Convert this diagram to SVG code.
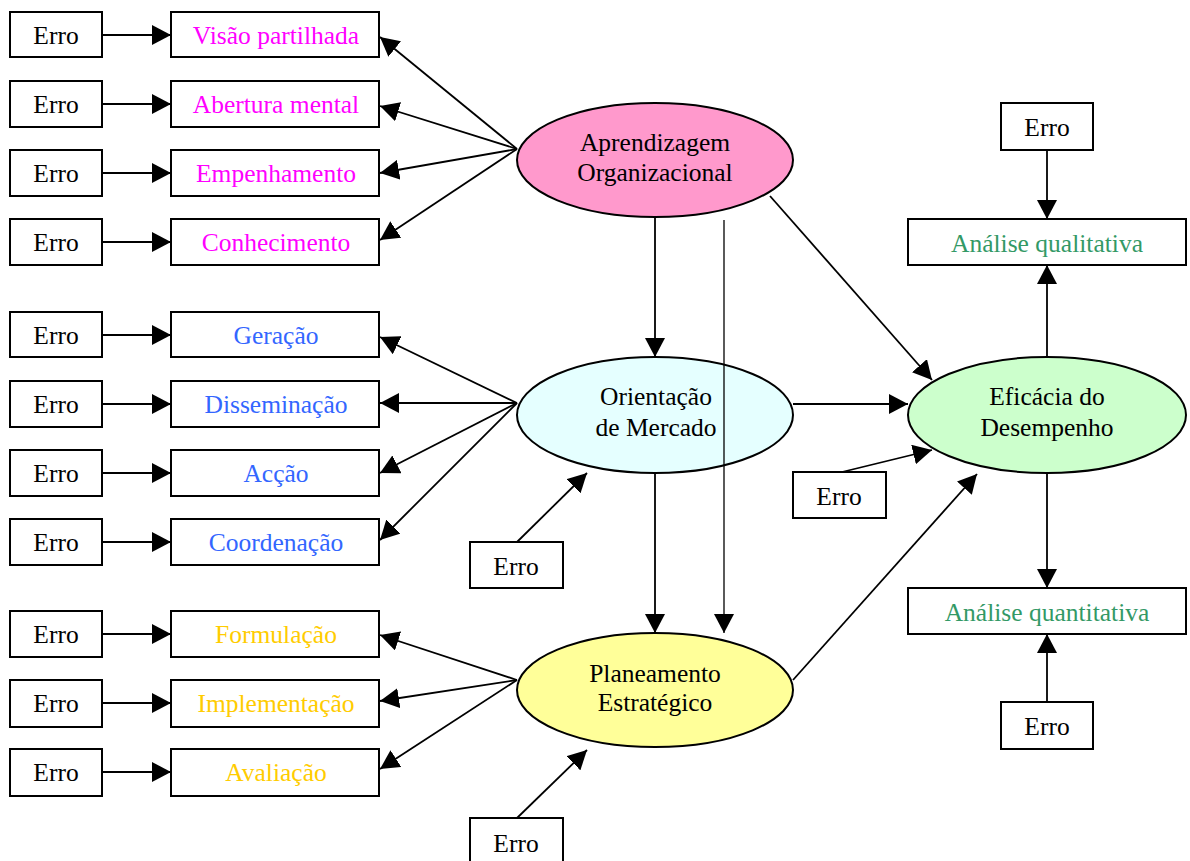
<svg xmlns="http://www.w3.org/2000/svg" width="1190" height="861" viewBox="0 0 1190 861">
  <defs>
    <marker id="arrow" markerUnits="userSpaceOnUse" markerWidth="20" markerHeight="20" refX="19" refY="10" orient="auto" viewBox="0 0 20 20">
      <path d="M0,0 L19,10 L0,20 Z" fill="#000"/>
    </marker>
    <style>
      text { font-family: "Liberation Serif", "Times New Roman", serif; font-size: 25.5px; text-anchor: middle; }
      .box { fill: #fff; stroke: #000; stroke-width: 2; }
      .ell { stroke: #000; stroke-width: 2; }
      .con { fill: none; stroke: #000; stroke-width: 1.8; marker-end: url(#arrow); }
      .thin { fill: none; stroke: #000; stroke-width: 1.3; marker-end: url(#arrow); }
      .mag { fill: #FF00FF; }
      .blu { fill: #3366FF; }
      .gold { fill: #FFCC00; }
      .grn { fill: #339966; }
    </style>
  </defs>
  <rect width="1190" height="861" fill="#fff"/>

  <!-- connectors -->
  <g id="connectors">
    <!-- error terms into indicators -->
    <line class="con" x1="102" y1="35" x2="171" y2="35"/>
    <line class="con" x1="102" y1="104" x2="171" y2="104"/>
    <line class="con" x1="102" y1="173" x2="171" y2="173"/>
    <line class="con" x1="102" y1="242" x2="171" y2="242"/>
    <line class="con" x1="102" y1="335" x2="171" y2="335"/>
    <line class="con" x1="102" y1="404" x2="171" y2="404"/>
    <line class="con" x1="102" y1="473" x2="171" y2="473"/>
    <line class="con" x1="102" y1="542" x2="171" y2="542"/>
    <line class="con" x1="102" y1="634" x2="171" y2="634"/>
    <line class="con" x1="102" y1="703" x2="171" y2="703"/>
    <line class="con" x1="102" y1="772" x2="171" y2="772"/>

    <!-- Aprendizagem Organizacional indicators -->
    <line class="con" x1="517" y1="149" x2="380" y2="37"/>
    <line class="con" x1="517" y1="149" x2="380" y2="106"/>
    <line class="con" x1="517" y1="149" x2="380" y2="173"/>
    <line class="con" x1="517" y1="149" x2="380" y2="240"/>

    <!-- Orientação de Mercado indicators -->
    <line class="con" x1="517" y1="403" x2="380" y2="337"/>
    <line class="con" x1="517" y1="403" x2="380" y2="403"/>
    <line class="con" x1="517" y1="403" x2="380" y2="473"/>
    <line class="con" x1="517" y1="403" x2="380" y2="540"/>

    <!-- Planeamento Estratégico indicators -->
    <line class="con" x1="517" y1="680" x2="380" y2="635"/>
    <line class="con" x1="517" y1="680" x2="380" y2="701"/>
    <line class="con" x1="517" y1="680" x2="380" y2="769"/>

    <!-- structural paths -->
    <line class="con" x1="655" y1="218" x2="655" y2="357"/>
    <line class="con" x1="655" y1="474" x2="655" y2="633"/>
    <line class="con" x1="793" y1="404" x2="908" y2="404"/>
    <line class="con" x1="770" y1="196" x2="932" y2="380"/>
    <line class="con" x1="793" y1="680" x2="977" y2="474"/>

    <!-- error terms into latent variables -->
    <line class="con" x1="517" y1="542" x2="587" y2="473"/>
    <line class="con" x1="517" y1="818" x2="587" y2="750"/>
    <line class="con" x1="842" y1="472" x2="932" y2="450"/>

    <!-- Eficácia do Desempenho indicators -->
    <line class="con" x1="1047" y1="357" x2="1047" y2="265"/>
    <line class="con" x1="1047" y1="150" x2="1047" y2="219"/>
    <line class="con" x1="1047" y1="474" x2="1047" y2="588"/>
    <line class="con" x1="1047" y1="702" x2="1047" y2="634"/>
  </g>

  <!-- left error terms -->
  <g id="erro-1"><rect class="box" x="10" y="12" width="92" height="45"/><text x="56" y="44">Erro</text></g>
  <g id="erro-2"><rect class="box" x="10" y="81" width="92" height="46"/><text x="56" y="113">Erro</text></g>
  <g id="erro-3"><rect class="box" x="10" y="150" width="92" height="46"/><text x="56" y="182">Erro</text></g>
  <g id="erro-4"><rect class="box" x="10" y="219" width="92" height="46"/><text x="56" y="251">Erro</text></g>
  <g id="erro-5"><rect class="box" x="10" y="312" width="92" height="45"/><text x="56" y="344">Erro</text></g>
  <g id="erro-6"><rect class="box" x="10" y="381" width="92" height="46"/><text x="56" y="413">Erro</text></g>
  <g id="erro-7"><rect class="box" x="10" y="450" width="92" height="46"/><text x="56" y="482">Erro</text></g>
  <g id="erro-8"><rect class="box" x="10" y="519" width="92" height="46"/><text x="56" y="551">Erro</text></g>
  <g id="erro-9"><rect class="box" x="10" y="611" width="92" height="46"/><text x="56" y="643">Erro</text></g>
  <g id="erro-10"><rect class="box" x="10" y="680" width="92" height="47"/><text x="56" y="712">Erro</text></g>
  <g id="erro-11"><rect class="box" x="10" y="749" width="92" height="47"/><text x="56" y="781">Erro</text></g>

  <!-- indicators -->
  <g id="visao"><rect class="box" x="171" y="12" width="208" height="45"/><text class="mag" x="276" y="44">Visão partilhada</text></g>
  <g id="abertura"><rect class="box" x="171" y="81" width="208" height="46"/><text class="mag" x="276" y="113">Abertura mental</text></g>
  <g id="empenhamento"><rect class="box" x="171" y="150" width="208" height="46"/><text class="mag" x="276" y="182">Empenhamento</text></g>
  <g id="conhecimento"><rect class="box" x="171" y="219" width="208" height="46"/><text class="mag" x="276" y="251">Conhecimento</text></g>

  <g id="geracao"><rect class="box" x="171" y="312" width="208" height="45"/><text class="blu" x="276" y="344">Geração</text></g>
  <g id="disseminacao"><rect class="box" x="171" y="381" width="208" height="46"/><text class="blu" x="276" y="413">Disseminação</text></g>
  <g id="accao"><rect class="box" x="171" y="450" width="208" height="46"/><text class="blu" x="276" y="482">Acção</text></g>
  <g id="coordenacao"><rect class="box" x="171" y="519" width="208" height="46"/><text class="blu" x="276" y="551">Coordenação</text></g>

  <g id="formulacao"><rect class="box" x="171" y="611" width="208" height="46"/><text class="gold" x="276" y="643">Formulação</text></g>
  <g id="implementacao"><rect class="box" x="171" y="680" width="208" height="47"/><text class="gold" x="276" y="712">Implementação</text></g>
  <g id="avaliacao"><rect class="box" x="171" y="749" width="208" height="47"/><text class="gold" x="276" y="781">Avaliação</text></g>

  <!-- latent variables -->
  <g id="aprendizagem">
    <ellipse class="ell" cx="655" cy="160" rx="138" ry="57" fill="#FF99CC"/>
    <text x="655" y="151">Aprendizagem</text>
    <text x="655" y="181">Organizacional</text>
  </g>
  <g id="orientacao">
    <ellipse class="ell" cx="655" cy="415" rx="138" ry="58" fill="#E5FFFF"/>
    <text x="656" y="405">Orientação</text>
    <text x="656" y="436">de Mercado</text>
  </g>
  <g id="planeamento">
    <ellipse class="ell" cx="655" cy="690" rx="138" ry="57" fill="#FFFF99"/>
    <text x="655" y="682">Planeamento</text>
    <text x="655" y="711">Estratégico</text>
  </g>
  <g id="eficacia">
    <ellipse class="ell" cx="1047" cy="415" rx="139" ry="58" fill="#CCFFCC"/>
    <text x="1047" y="405">Eficácia do</text>
    <text x="1047" y="436">Desempenho</text>
  </g>

  <!-- direct path crossing over Orientação de Mercado -->
  <g id="connector-direct">
    <line class="thin" x1="724" y1="220" x2="724" y2="633"/>
  </g>

  <!-- error terms on latent variables -->
  <g id="erro-om"><rect class="box" x="470" y="542" width="93" height="46"/><text x="516" y="575">Erro</text></g>
  <g id="erro-pe"><rect class="box" x="470" y="818" width="93" height="46"/><text x="516" y="852">Erro</text></g>
  <g id="erro-ed"><rect class="box" x="793" y="472" width="93" height="46"/><text x="839" y="505">Erro</text></g>

  <!-- outcome indicators -->
  <g id="qualitativa"><rect class="box" x="908" y="219" width="278" height="46"/><text class="grn" x="1047" y="252">Análise qualitativa</text></g>
  <g id="quantitativa"><rect class="box" x="908" y="588" width="278" height="46"/><text class="grn" x="1047" y="621">Análise quantitativa</text></g>
  <g id="erro-ql"><rect class="box" x="1001" y="103" width="92" height="47"/><text x="1047" y="136">Erro</text></g>
  <g id="erro-qt"><rect class="box" x="1001" y="702" width="92" height="47"/><text x="1047" y="735">Erro</text></g>
</svg>
